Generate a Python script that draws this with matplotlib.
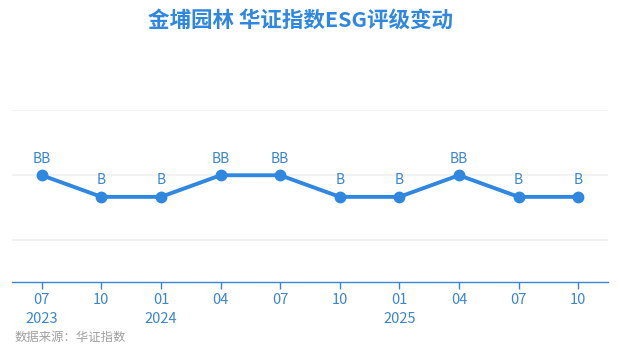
import matplotlib
matplotlib.use("Agg")
import matplotlib.pyplot as plt

plt.rcParams['font.family'] = ['Noto Sans CJK SC', 'DejaVu Sans']

months = ["07", "10", "01", "04", "07", "10", "01", "04", "07", "10"]
years = ["2023", "", "2024", "", "", "", "2025", "", "", ""]
ratings = ["BB", "B", "B", "BB", "BB", "B", "B", "BB", "B", "B"]
rating_scale = {"CCC": 3, "B": 5, "BB": 6, "BBB": 7, "A": 8, "AA": 9}
values = [rating_scale[r] for r in ratings]

blue = "#2f87e0"
tick_blue = "#3a86d0"

fig = plt.figure(figsize=(6.18, 3.55), dpi=100)
ax = fig.add_axes([12/618, 1-282/355, 596/618, (282-110)/355])

x = list(range(len(values)))
ax.plot(x, values, color=blue, lw=2.8, marker="o", markersize=7.5, zorder=3, solid_capstyle="round")
for xi, v, r in zip(x, values, ratings):
    ax.annotate(r, (xi, v), xytext=(0, 7), textcoords="offset points",
                ha="center", va="bottom", color=tick_blue, fontsize=10)

ax.set_xlim(-0.5, len(values) - 0.5)
ax.set_ylim(1.06, 9.02)
ax.set_yticks([3, 6, 9])
ax.yaxis.grid(True, color="#f0f0f0", lw=1.2)
ax.set_axisbelow(True)
ax.tick_params(axis="y", left=False, labelleft=False)
ax.set_xticks(x)
ax.set_xticklabels([m + ("\n" + y if y else "") for m, y in zip(months, years)],
                   color=tick_blue, fontsize=10.5, linespacing=1.4)
ax.tick_params(axis="x", colors=tick_blue, length=5, width=1, pad=3)
for s in ["top", "right", "left"]:
    ax.spines[s].set_visible(False)
ax.spines["bottom"].set_color(tick_blue)
ax.spines["bottom"].set_linewidth(1)

fig.text(300/618, 1-20/355, "金埔园林 华证指数ESG评级变动", ha="center", va="center",
         color=blue, fontsize=15.5, fontweight="bold")
fig.text(15/618, 1-337/355, "数据来源：华证指数", ha="left", va="center",
         color="#a0a0a0", fontsize=8.9)

fig.savefig("out.png", dpi=100)
